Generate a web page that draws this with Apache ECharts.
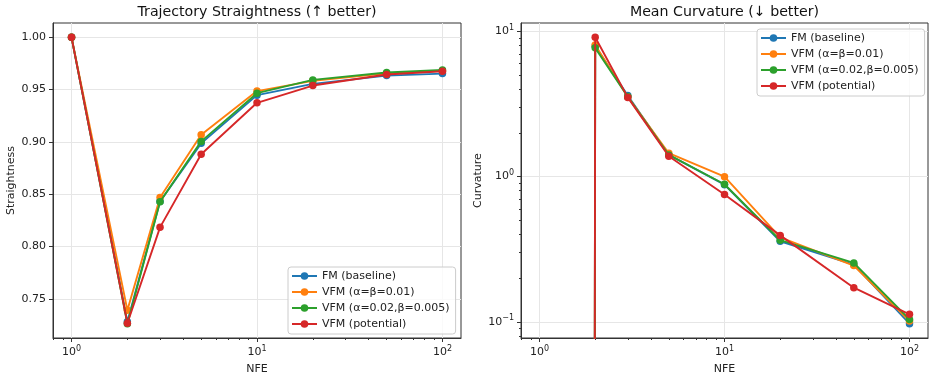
<!DOCTYPE html>
<html>
<head>
<meta charset="utf-8">
<script src="https://cdn.jsdelivr.net/npm/echarts@6/dist/echarts.min.js"></script>
<style>html,body{margin:0;padding:0;background:#fff}#c{width:935px;height:380px}</style>
</head>
<body>
<div id="c"></div>
<script>
// ---- data ----
const NFE = [1, 2, 3, 5, 10, 20, 50, 100];
const seriesNames = ['FM (baseline)', 'VFM (α=β=0.01)', 'VFM (α=0.02,β=0.005)', 'VFM (potential)'];
const straightFM   = [1.0, 0.728, 0.843, 0.8986, 0.9447, 0.9555, 0.9634, 0.9653];
const straightVFM1 = [1.0, 0.739, 0.8469, 0.9069, 0.9486, 0.9584, 0.9655, 0.9680];
const straightVFM2 = [1.0, 0.7262, 0.8428, 0.9005, 0.9466, 0.9593, 0.9663, 0.9688];
const straightPot  = [1.0, 0.7266, 0.8183, 0.8882, 0.9374, 0.9539, 0.9644, 0.9676];
const curvFM   = [0, 7.9, 3.62, 1.41, 0.88, 0.359, 0.248, 0.0972];
const curvVFM1 = [0, 8.05, 3.55, 1.45, 1.00, 0.382, 0.244, 0.1014];
const curvVFM2 = [0, 7.7, 3.55, 1.41, 0.886, 0.365, 0.2547, 0.104];
const curvPot  = [0, 9.1, 3.51, 1.38, 0.753, 0.394, 0.172, 0.1127];
const straightTicks = [0.75, 0.80, 0.85, 0.90, 0.95, 1.00];
const xMajorTicks = [1, 10, 100];
const xMinorTicks = [0.8, 0.9, 2, 3, 4, 5, 6, 7, 8, 9, 20, 30, 40, 50, 60, 70, 80, 90];
const curvMajorTicks = [0.1, 1, 10];
const curvMinorTicks = [0.08, 0.09, 0.2, 0.3, 0.4, 0.5, 0.6, 0.7, 0.8, 0.9, 2, 3, 4, 5, 6, 7, 8, 9];

const colors = ['#1f77b4', '#ff7f0e', '#2ca02c', '#d62728'];
const FONT = 'DejaVu Sans';
const straightSets = [straightFM, straightVFM1, straightVFM2, straightPot];
const curvSets = [curvFM, curvVFM1, curvVFM2, curvPot];

// matplotlib-like 5% margins
const lx = NFE.map(Math.log10);
const lxr = Math.max(...lx) - Math.min(...lx);
const xMin = Math.pow(10, Math.min(...lx) - 0.05 * lxr);
const xMax = Math.pow(10, Math.max(...lx) + 0.05 * lxr);
const allS = straightSets.flat();
const sr = Math.max(...allS) - Math.min(...allS);
const sMin = Math.min(...allS) - 0.05 * sr, sMax = Math.max(...allS) + 0.05 * sr;
const allC = curvSets.flat().filter(v => v > 0).map(Math.log10);
const cr = Math.max(...allC) - Math.min(...allC);
const cMin = Math.pow(10, Math.min(...allC) - 0.05 * cr), cMax = Math.pow(10, Math.max(...allC) + 0.05 * cr);

const SPINE = '#333';
const GRIDC = '#e6e6e6';
const powRich = {
  b: { fontSize: 11, fontFamily: FONT, color: '#222', lineHeight: 15 },
  s: { fontSize: 8, fontFamily: FONT, color: '#222', verticalAlign: 'top', lineHeight: 15 }
};
function powLabel(v) {
  const e = Math.round(Math.log10(v));
  return '{b|10}{s|' + (e < 0 ? '−' + (-e) : e) + '}';
}

function majorX(g) {
  return {
    type: 'log', gridIndex: g, min: xMin, max: xMax,
    axisLine: { show: true, onZero: false, lineStyle: { color: SPINE, width: 1 } },
    axisTick: { show: true, length: 4, lineStyle: { color: SPINE, width: 1 }, customValues: xMajorTicks },
    axisLabel: { customValues: xMajorTicks, formatter: powLabel, rich: powRich, margin: 7 },
    splitLine: { show: true, lineStyle: { color: GRIDC, width: 1 } },
    name: 'NFE', nameLocation: 'middle', nameGap: 26,
    nameTextStyle: { fontSize: 11, fontFamily: FONT, color: '#222' }
  };
}
function minorX(g) {
  return {
    type: 'log', gridIndex: g, min: xMin, max: xMax, position: 'bottom',
    axisLine: { show: false }, axisLabel: { show: false }, splitLine: { show: false },
    axisTick: { show: true, length: 2, lineStyle: { color: SPINE, width: 1 }, customValues: xMinorTicks }
  };
}

function mkSeries(sets, xi, yi, log) {
  return sets.map((arr, i) => ({
    name: seriesNames[i], type: 'line', xAxisIndex: xi, yAxisIndex: yi,
    data: NFE.map((x, k) => [x, (log && arr[k] <= 0) ? 1e-300 : arr[k]]),
    symbol: 'circle', symbolSize: 7.5, showSymbol: true, showAllSymbol: true,
    lineStyle: { width: 1.9, color: colors[i] }, itemStyle: { color: colors[i] },
    emphasis: { disabled: true }, clip: true, z: 3 + i
  }));
}

const legendBase = {
  orient: 'vertical', itemWidth: 25, itemHeight: 9.5, itemGap: 0,
  backgroundColor: 'rgba(255,255,255,0.8)', borderColor: '#cccccc', borderWidth: 1, borderRadius: 3,
  textStyle: { fontSize: 11, fontFamily: FONT, color: '#222', lineHeight: 16 },
  data: seriesNames
};

const chart = echarts.init(document.getElementById('c'), null, { renderer: 'canvas' });
chart.setOption({
  animation: false,
  textStyle: { fontFamily: FONT },
  title: [
    { text: 'Trajectory Straightness (↑ better)', left: 257, top: 5, textAlign: 'center', padding: 0,
      textStyle: { fontSize: 14.2, fontWeight: 'normal', fontFamily: FONT, color: '#111' } },
    { text: 'Mean Curvature (↓ better)', left: 724.5, top: 5, textAlign: 'center', padding: 0,
      textStyle: { fontSize: 14.2, fontWeight: 'normal', fontFamily: FONT, color: '#111' } }
  ],
  grid: [
    { left: 53, top: 23, width: 408, height: 317, show: true, borderColor: SPINE, borderWidth: 1, backgroundColor: 'transparent' },
    { left: 521, top: 23, width: 407, height: 317, show: true, borderColor: SPINE, borderWidth: 1, backgroundColor: 'transparent' }
  ],
  legend: [
    Object.assign({}, legendBase, { left: 288, top: 267, padding: [1, 6, 2, 3] }),
    Object.assign({}, legendBase, { left: 757, top: 29, padding: [1, 6, 2, 3] })
  ],
  xAxis: [majorX(0), minorX(0), majorX(1), minorX(1)],
  yAxis: [
    { type: 'value', gridIndex: 0, min: sMin, max: sMax,
      axisLine: { show: true, onZero: false, lineStyle: { color: SPINE, width: 1 } },
      axisTick: { show: true, length: 4, lineStyle: { color: SPINE }, customValues: straightTicks },
      axisLabel: { customValues: straightTicks, formatter: v => v.toFixed(2), fontSize: 11, fontFamily: FONT, color: '#222', margin: 7 },
      splitLine: { show: true, lineStyle: { color: GRIDC, width: 1 } },
      name: 'Straightness', nameLocation: 'middle', nameGap: 36,
      nameTextStyle: { fontSize: 11, fontFamily: FONT, color: '#222' } },
    { type: 'log', gridIndex: 1, min: cMin, max: cMax, position: 'left',
      axisLine: { show: true, onZero: false, lineStyle: { color: SPINE, width: 1 } },
      axisTick: { show: true, length: 4, lineStyle: { color: SPINE }, customValues: curvMajorTicks },
      axisLabel: { customValues: curvMajorTicks, formatter: powLabel, rich: powRich, margin: 7 },
      splitLine: { show: true, lineStyle: { color: GRIDC, width: 1 } },
      name: 'Curvature', nameLocation: 'middle', nameGap: 37,
      nameTextStyle: { fontSize: 11, fontFamily: FONT, color: '#222' } },
    { type: 'log', gridIndex: 1, min: cMin, max: cMax, position: 'left',
      axisLine: { show: false }, axisLabel: { show: false }, splitLine: { show: false },
      axisTick: { show: true, length: 2, lineStyle: { color: SPINE }, customValues: curvMinorTicks } }
  ],
  series: [].concat(mkSeries(straightSets, 0, 0, false), mkSeries(curvSets, 2, 1, true))
});
</script>
</body>
</html>
